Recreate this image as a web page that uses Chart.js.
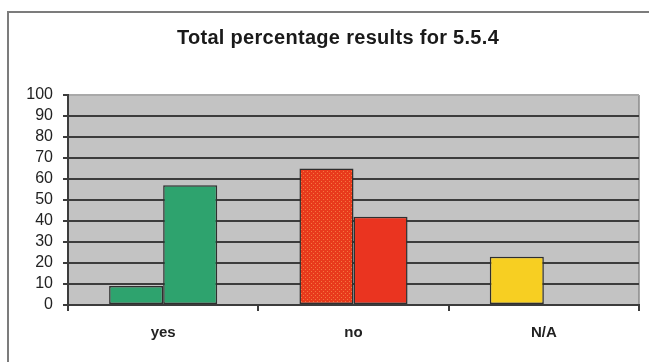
<!DOCTYPE html>
<html>
<head>
<meta charset="utf-8">
<script src="https://cdn.jsdelivr.net/npm/chart.js@4.4.1/dist/chart.umd.min.js"></script>
<style>
  html, body { margin: 0; padding: 0; background: #ffffff; }
  #wrap { position: relative; width: 649px; height: 362px; }
</style>
</head>
<body>
<div id="wrap"><canvas id="chart" width="649" height="362"></canvas></div>
<script>
// Answer categories and the two result series (percent)
const categories = ['yes', 'no', 'N/A'];
const seriesFirst = [9, 65, 23];
const seriesSecond = [57, 42, null];
const yTicks = [0, 10, 20, 30, 40, 50, 60, 70, 80, 90, 100];
const titleText = 'Total percentage results for 5.5.4';

const GREEN = '#2ea36e';
const RED = '#ea3420';
const YELLOW = '#f7cf22';
const EDGE = '#2f2f2f';
const GRID = '#3c3c3c';
const FONT = 'Liberation Sans, Arial, sans-serif';

// Dotted red fill for the first "no" bar
function dottedRed() {
  const c = document.createElement('canvas');
  c.width = 4; c.height = 4;
  const g = c.getContext('2d');
  g.fillStyle = '#e83a1c';
  g.fillRect(0, 0, 4, 4);
  g.fillStyle = '#f4763f';
  g.fillRect(1, 1, 1, 1);
  g.fillRect(3, 3, 1, 1);
  return g.createPattern(c, 'repeat');
}

// Grey plot background, the outer frame line and the heading
const backdrop = {
  id: 'backdrop',
  beforeDraw(chart) {
    const { ctx, chartArea: a } = chart;
    ctx.save();
    ctx.fillStyle = '#ffffff';
    ctx.fillRect(0, 0, chart.width, chart.height);
    ctx.strokeStyle = '#7c7c7c';
    ctx.lineWidth = 2;
    ctx.strokeRect(8, 12, chart.width + 20, chart.height + 20);
    ctx.fillStyle = '#c3c3c3';
    ctx.fillRect(a.left, a.top, a.right - a.left, a.bottom - a.top);
    ctx.strokeStyle = '#8a8a8a';
    ctx.lineWidth = 1.5;
    ctx.beginPath();
    ctx.moveTo(a.right, a.top);
    ctx.lineTo(a.right, a.bottom);
    ctx.stroke();

    ctx.fillStyle = '#1a1a1a';
    ctx.font = 'bold 20px ' + FONT;
    if ('letterSpacing' in ctx) ctx.letterSpacing = '0.3px';
    ctx.textAlign = 'center';
    ctx.textBaseline = 'middle';
    ctx.fillText(titleText, 338, 38);
    ctx.restore();
  }
};

new Chart(document.getElementById('chart'), {
  type: 'bar',
  data: {
    labels: categories,
    datasets: [
      {
        data: seriesFirst,
        backgroundColor: [GREEN, dottedRed(), YELLOW],
        borderColor: EDGE,
        borderWidth: 1.5,
        borderSkipped: false
      },
      {
        data: seriesSecond,
        backgroundColor: [GREEN, RED, YELLOW],
        borderColor: EDGE,
        borderWidth: 1.5,
        borderSkipped: false
      }
    ]
  },
  options: {
    responsive: false,
    animation: false,
    events: [],
    layout: { padding: { left: 8, right: 10, top: 95, bottom: 0 } },
    datasets: { bar: { categoryPercentage: 0.568, barPercentage: 1.0 } },
    plugins: {
      legend: { display: false },
      tooltip: { enabled: false },
      title: { display: false }
    },
    scales: {
      x: {
        offset: true,
        grid: {
          display: true,
          offset: true,
          drawOnChartArea: false,
          drawTicks: true,
          tickLength: 6,
          color: GRID,
          lineWidth: 2
        },
        border: { display: true, color: GRID, width: 2 },
        ticks: {
          color: '#222222',
          padding: 13,
          font: { family: FONT, size: 15, weight: 'bold' }
        },
        afterFit(scale) { scale.height = 57; }
      },
      y: {
        min: 0,
        max: 100,
        afterBuildTicks(scale) { scale.ticks = yTicks.map(v => ({ value: v })); },
        grid: {
          color: ctx => (ctx.tick && ctx.tick.value === 100 ? '#a9a9a9' : GRID),
          tickColor: GRID,
          lineWidth: 2,
          tickLength: 5
        },
        border: { display: true, color: GRID, width: 2 },
        ticks: {
          autoSkip: false,
          color: '#222222',
          padding: 10,
          font: { family: FONT, size: 16 }
        },
        afterFit(scale) { scale.width = 60; }
      }
    }
  },
  plugins: [backdrop]
});
</script>
</body>
</html>
